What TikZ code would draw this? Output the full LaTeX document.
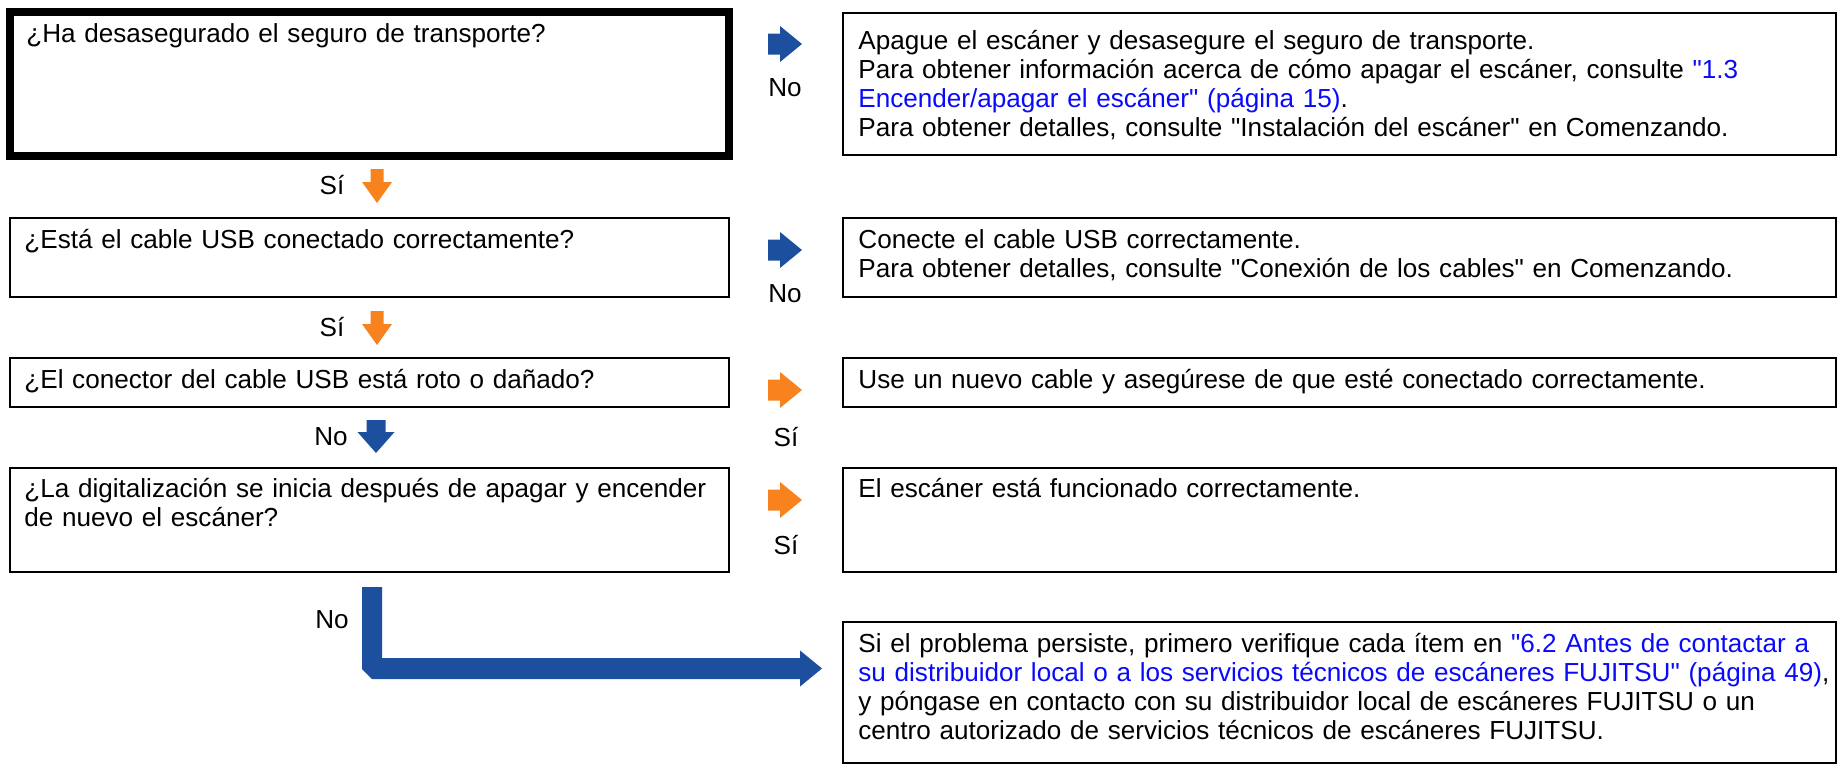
\documentclass[tikz,border=0pt]{standalone}
\usepackage{fontspec}
\setmainfont{Liberation Sans}[Ligatures=TeXOff]
\usetikzlibrary{calc}
\definecolor{fjblue}{RGB}{28,80,158}
\definecolor{fjorange}{RGB}{247,130,30}
\definecolor{linkblue}{RGB}{10,10,250}
\newcommand{\lnk}[1]{\textcolor{linkblue}{#1}}

\tikzset{
  box/.style={draw, line width=1.2pt},
  txt/.style={anchor=base west, inner sep=0pt, text width=525pt, align=left, font=\fontsize{13.05}{14.6}\selectfont},
  lbl/.style={inner sep=0pt, font=\fontsize{13.05}{14.6}\selectfont},
  rarrow/.pic={\path[pic actions] (0,-10.5) -- (12,-10.5) -- (12,-18) -- (34,0) -- (12,18) -- (12,10.5) -- (0,10.5) -- cycle;},
  sarrow/.pic={\path[pic actions] (-6.5,0) -- (-6.5,-13) -- (-15,-13) -- (0,-34) -- (15,-13) -- (6.5,-13) -- (6.5,0) -- cycle;},
  narrow/.pic={\path[pic actions] (-9.5,0) -- (-9.5,-12) -- (-18.5,-12) -- (0,-33) -- (18.5,-12) -- (9.5,-12) -- (9.5,0) -- cycle;},
}

\begin{document}
\begin{tikzpicture}[x=0.5pt, y=0.5pt]
\useasboundingbox (0,0) rectangle (1840,-771);

% Question boxes
\draw[line width=4pt] (10,-12) rectangle (729,-156);
\foreach \ya/\yb in {218/297, 358/407, 468/572}
{
    \draw[box] (10,-\ya) rectangle (729,-\yb);
}

% Answer boxes
\foreach \ya/\yb in {13/155, 218/297, 358/407, 468/572, 622/763}
{
    \draw[box] (843,-\ya) rectangle (1836,-\yb);
}

% Questions
\node[txt] (q1) at (26,-42) {¿Ha desasegurado el seguro de transporte?};
\node[txt] (q2) at (24,-248) {¿Está el cable USB conectado correctamente?};
\node[txt] (q3) at (24,-388) {¿El conector del cable USB está roto o dañado?};
\node[txt] (q4) at (24,-497) {¿La digitalización se inicia después de apagar y encender\\de nuevo el escáner?};

% Answers
\node[txt] (a1) at (858,-49) {Apague el escáner y desasegure el seguro de transporte.\\Para obtener información acerca de cómo apagar el escáner, consulte \lnk{"1.3}\\\lnk{Encender/apagar el escáner" (página 15)}.\\Para obtener detalles, consulte "Instalación del escáner" en Comenzando.};
\node[txt] (a2) at (858,-248) {Conecte el cable USB correctamente.\\Para obtener detalles, consulte "Conexión de los cables" en Comenzando.};
\node[txt] (a3) at (858,-388) {Use un nuevo cable y asegúrese de que esté conectado correctamente.};
\node[txt] (a4) at (858,-497) {El escáner está funcionado correctamente.};
\node[txt] (a5) at (858,-652) {Si el problema persiste, primero verifique cada ítem en \lnk{"6.2 Antes de contactar a}\\\lnk{su distribuidor local o a los servicios técnicos de escáneres FUJITSU" (página 49)},\\y póngase en contacto con su distribuidor local de escáneres FUJITSU o un\\centro autorizado de servicios técnicos de escáneres FUJITSU.};

% Arrows to the right
\pic[fill=fjblue] at (768,-44) {rarrow};
\pic[fill=fjblue] at (768,-250) {rarrow};
\pic[fill=fjorange] at (768,-390) {rarrow};
\pic[fill=fjorange] at (768,-500) {rarrow};
\node[lbl] (n1) at (785,-88) {No};
\node[lbl] (n2) at (785,-294) {No};
\node[lbl] (y3) at (786,-437) {Sí};
\node[lbl] (y4) at (786,-545) {Sí};

% Arrows down
\pic[fill=fjorange] at (377,-169) {sarrow};
\pic[fill=fjorange] at (377,-311) {sarrow};
\pic[fill=fjblue] at (376,-420) {narrow};
\node[lbl] (y1) at (332,-185) {Sí};
\node[lbl] (y2) at (332,-327) {Sí};
\node[lbl] (n3) at (331,-437) {No};

% Last arrow
\fill[fjblue] (362,-587) -- (382,-587) -- (382,-658) -- (800,-658) -- (800,-650.5)
    -- (822,-668.5) -- (800,-686.5) -- (800,-679) -- (372,-679) -- (362,-669) -- cycle;
\node[lbl] (n4) at (332,-620) {No};

\end{tikzpicture}
\end{document}
